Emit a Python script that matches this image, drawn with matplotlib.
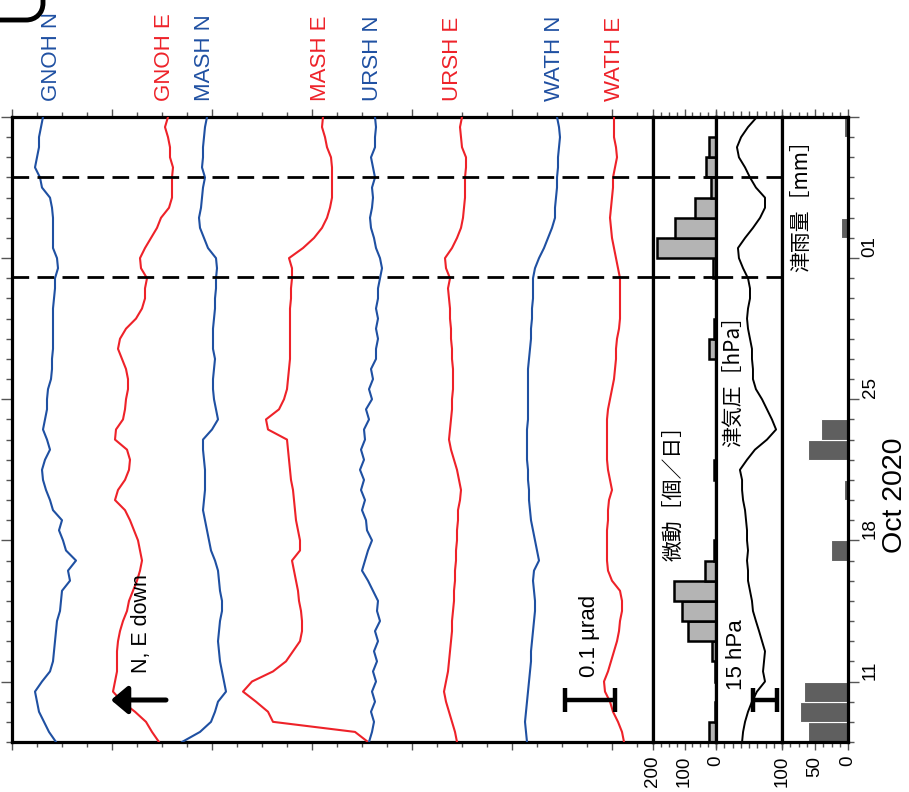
import numpy as np
import pandas as pd
import matplotlib
matplotlib.use("Agg")
import matplotlib.pyplot as plt
import matplotlib.dates as mdates
import matplotlib.ticker as mticker
import matplotlib.transforms as mtransforms
from matplotlib.path import Path
from matplotlib.patches import PathPatch

plt.rcParams["font.family"] = ["Liberation Sans", "DejaVu Sans"]
CJK = ["Noto Sans CJK JP", "Liberation Sans", "DejaVu Sans"]

W, H = 909, 792

# ---------------------------------------------------------------------------
# Data
# ---------------------------------------------------------------------------
period_start = "2020-10-08"
period_end = "2020-11-08"

# tilt records, 12-hourly samples, change in nrad from the first sample
stations = ["GNOH N", "GNOH E", "MASH N", "MASH E",
            "URSH N", "URSH E", "WATH N", "WATH E"]

gnoh_n = [0, -14, -24, -34, -38, -42, -28, -12, -6, -4,
          -2, 0, 2, 8, 10, 12, 28, 24, 40, 20,
          14, 6, 12, -6, -12, -20, -26, -28, -22, -12,
          -18, -26, -22, -18, -18, -16, -10, -8, -8, -6,
          -6, -6, -6, -6, -4, -2, -2, 4, 2, -6,
          -6, -6, -6, -8, -12, -28, -32, -42, -38, -34,
          -34, -30, -26]
gnoh_e = [0, -14, -26, -48, -74, -92, -88, -84, -84, -84,
          -82, -78, -72, -64, -60, -52, -44, -38, -34, -38,
          -42, -50, -58, -68, -88, -82, -68, -60, -58, -64,
          -88, -86, -72, -68, -66, -62, -62, -66, -74, -82,
          -78, -66, -46, -34, -28, -28, -24, -36, -38, -28,
          -16, -4, 4, 20, 26, 26, 26, 28, 22, 22,
          18, 12, 18]
mash_n = [0, 36, 58, 66, 72, 88, 84, 80, 76, 74,
          72, 74, 76, 80, 80, 76, 74, 72, 66, 58,
          54, 50, 46, 42, 44, 46, 46, 46, 44, 42,
          42, 60, 72, 68, 64, 62, 62, 64, 66, 62,
          62, 62, 64, 66, 66, 68, 68, 70, 68, 52,
          44, 36, 34, 38, 40, 42, 46, 40, 42, 42,
          44, 46, 50]
mash_e = [0, -26, -190, -200, -224, -250, -232, -190, -164, -150,
          -136, -132, -132, -134, -138, -140, -144, -148, -152, -136,
          -136, -140, -144, -146, -148, -150, -154, -156, -158, -160,
          -162, -200, -204, -178, -168, -162, -160, -158, -156, -156,
          -156, -156, -156, -156, -154, -154, -152, -152, -158, -130,
          -108, -92, -82, -76, -72, -72, -72, -72, -74, -82,
          -86, -92, -90]
ursh_n = [0, 6, 10, 4, 12, 6, 14, 8, 16, 10,
          18, 12, 22, 16, 18, 8, -2, -14, -8, -2,
          6, -4, -6, -14, -8, -16, -10, -18, -10, -16,
          -8, -10, 0, -6, 6, 0, 8, 4, 14, 14,
          18, 14, 18, 14, 18, 18, 22, 26, 22, 14,
          10, 4, 2, 6, 8, 6, 12, 8, 4, 12,
          12, 14, 12]
ursh_e = [0, -4, -10, -16, -22, -26, -22, -18, -16, -14,
          -12, -10, -10, -8, -6, -6, -4, -4, -2, -2,
          0, 0, 2, 2, 6, 8, 4, 0, -6, -12,
          -16, -14, -12, -10, -10, -8, -8, -8, -10, -10,
          -12, -12, -14, -14, -16, -18, -14, -22, -24, -10,
          0, 8, 12, 14, 16, 16, 16, 18, 18, 10,
          8, 6, 10]
wath_n = [0, -2, -4, -2, 0, 2, 4, 6, 8, 8,
          10, 12, 14, 16, 16, 14, 12, 14, 24, 20,
          16, 12, 8, 6, 4, 4, 2, 2, 0, 0,
          0, 0, 2, 2, 2, 2, 2, 2, 4, 6,
          8, 8, 10, 10, 12, 12, 12, 16, 24, 34,
          42, 50, 56, 56, 58, 60, 60, 62, 62, 64,
          66, 64, 60]
wath_e = [0, -4, -12, -22, -28, -38, -40, -32, -26, -20,
          -14, -10, -8, -4, -4, -8, -24, -32, -34, -34,
          -34, -34, -32, -32, -30, -24, -28, -32, -34, -34,
          -34, -34, -34, -32, -28, -24, -20, -18, -16, -16,
          -14, -10, -8, -8, -8, -8, -8, -12, -16, -20,
          -24, -26, -28, -26, -24, -22, -22, -18, -14, -16,
          -20, -20, -20]

# barometric pressure at Tsu, 12-hourly [hPa]
pressure_hpa = [1005.8, 1006.4, 1007.6, 1009.4, 1011.8, 1014.8, 1019.7, 1018.5, 1019.1, 1019.7,
                1017.9, 1016.1, 1014.2, 1012.4, 1011.8, 1010.6, 1009.4, 1009.4, 1008.8, 1009.4,
                1008.8, 1008.8, 1008.2, 1007.6, 1006.4, 1005.8, 1005.8, 1004.5, 1008.8, 1013.6,
                1020.9, 1026.4, 1023.9, 1020.9, 1017.9, 1014.2, 1012.4, 1012.4, 1011.8, 1011.8,
                1010.6, 1009.4, 1008.8, 1009.4, 1010.6, 1010.6, 1009.4, 1006.4, 1003.9, 1003.3,
                1007.6, 1012.4, 1016.7, 1019.7, 1019.7, 1014.2, 1010.6, 1007.6, 1003.9, 1002.7,
                1005.2, 1009.4, 1014.8]

# daily tremor counts and daily rainfall, Oct 8 .. Nov 7
tremor_per_day = [22, 2, 1, 2, 12, 90, 107, 133, 35, 5,
                  0, 0, 0, 6, 0, 0, 0, 0, 0, 22,
                  6, 0, 0, 8, 187, 130, 67, 16, 32, 22,
                  0]
rain_mm = [61, 72, 66, 0, 0, 0, 0, 0, 0, 26,
           0, 0, 6, 0, 60, 41, 0, 0, 0, 0,
           0, 0, 0, 0, 0, 10, 0, 0, 0, 0,
           6]

# tremor episodes marked across the panels
event_times = ["2020-10-31 01:40", "2020-11-05 00:45"]

# weekly date labels on the time axis
label_dates = ["2020-10-11", "2020-10-18", "2020-10-25", "2020-11-01"]

# ---------------------------------------------------------------------------
# Styling / layout
# ---------------------------------------------------------------------------
BLUE = "#1f50a2"
RED = "#ee2229"
trace_colors = [BLUE, RED] * 4
trace_offsets = [0.088, 0.294, 0.340, 0.712, 0.714, 0.890, 1.030, 1.224]  # µrad
label_x_px = [51.5, 165, 205, 320, 372, 453, 555, 615]
traces = [gnoh_n, gnoh_e, mash_n, mash_e, ursh_n, ursh_e, wath_n, wath_e]

t12 = mdates.date2num(pd.date_range(period_start, periods=len(gnoh_n), freq="12h"))
tday = mdates.date2num(pd.date_range(period_start, periods=len(tremor_per_day), freq="D")) + 0.5
t0 = mdates.date2num(pd.Timestamp(period_start))
t1 = mdates.date2num(pd.Timestamp(period_end))


def fx(px):
    return px / W


def fy(py):
    return 1 - py / H


fig = plt.figure(figsize=(W / 100, H / 100), dpi=100)

top, bottom = 117, 742
def panel(x0, x1):
    return fig.add_axes([fx(x0), fy(bottom), (x1 - x0) / W, (bottom - top) / H])

ax_t = panel(12, 653)
ax_q = panel(653, 716)
ax_p = panel(716, 782)
ax_r = panel(782, 848)

for ax in (ax_t, ax_q, ax_p, ax_r):
    ax.set_ylim(t0, t1)
    for s in ax.spines.values():
        s.set_linewidth(2.3)
        s.set_color("black")
    ax.tick_params(axis="both", which="both", direction="out", color="#555555", width=1.0)
    ax.tick_params(axis="y", which="both", left=False, right=False, labelleft=False)
    ax.tick_params(axis="x", which="both", top=True, bottom=True, labelbottom=False)
    ax.tick_params(axis="x", which="major", length=6)
    ax.tick_params(axis="x", which="minor", length=3.5)

# ---- tilt panel ----
ax_t.set_xlim(0, 1.282)
ax_t.xaxis.set_major_locator(mticker.MultipleLocator(0.2))
ax_t.xaxis.set_minor_locator(mticker.MultipleLocator(0.05))
ax_t.yaxis.set_major_locator(mdates.WeekdayLocator(byweekday=mdates.SU))
ax_t.yaxis.set_minor_locator(mdates.DayLocator())
ax_t.tick_params(axis="y", which="both", left=True)
ax_t.tick_params(axis="y", which="major", length=8)
ax_t.tick_params(axis="y", which="minor", length=4)

for vals, off, col in zip(traces, trace_offsets, trace_colors):
    ax_t.plot(off + np.asarray(vals) / 1000.0, t12, color=col, lw=1.5, zorder=3)

for name, xp, col in zip(stations, label_x_px, trace_colors):
    fig.text(fx(xp), fy(101), name, rotation=90, ha="center", va="bottom",
             color=col, fontsize=16)

# 0.1 µrad scale bar and direction arrow
bar_t = mdates.date2num(pd.Timestamp("2020-10-10 02:00"))
ax_t.errorbar([1.155], [bar_t], xerr=[0.05], fmt="none", ecolor="black",
              elinewidth=3.2, capsize=8.5, capthick=3.2, zorder=5)
ax_t.annotate("", xy=(0.198, bar_t), xytext=(0.308, bar_t),
              arrowprops=dict(arrowstyle="-|>,head_length=0.5,head_width=0.42",
                              lw=3.6, color="black", mutation_scale=20,
                              shrinkA=0, shrinkB=0), zorder=6)
fig.text(fx(141), fy(624), "N, E down", rotation=90, ha="center", va="center", fontsize=15.5)
fig.text(fx(590), fy(636), "0.1 µrad", rotation=90, ha="center", va="center", fontsize=16)

# ---- tremor panel ----
ax_q.set_xlim(200, 0)
ax_q.xaxis.set_major_locator(mticker.MultipleLocator(100))
ax_q.xaxis.set_minor_locator(mticker.MultipleLocator(25))
ax_q.barh(tday, tremor_per_day, height=1.0, color="#b4b4b4",
          edgecolor="black", linewidth=1.8, zorder=2)
ax_q.tick_params(axis="x", which="major", labelbottom=True, labelrotation=90,
                 labelsize=13.5, pad=4)
fig.text(fx(673), fy(488), "微動［個／日］", rotation=90, ha="center", va="center",
         fontsize=15, family=CJK)

# ---- pressure panel ----
ax_p.set_xlim(990, 1030)
ax_p.xaxis.set_major_locator(mticker.MultipleLocator(5))
ax_p.xaxis.set_minor_locator(mticker.NullLocator())
ax_p.tick_params(axis="x", which="major", length=4.5)
ax_p.plot(pressure_hpa, t12, color="black", lw=1.4, zorder=3)
ax_p.errorbar([1019.7], [bar_t], xerr=[7.5], fmt="none", ecolor="black",
              elinewidth=3.2, capsize=8.5, capthick=3.2, zorder=5)
fig.text(fx(737), fy(655), "15 hPa", rotation=90, ha="center", va="center", fontsize=16)
fig.text(fx(733), fy(376), "津気圧［hPa］", rotation=90, ha="center", va="center",
         fontsize=15, family=CJK)

# ---- rainfall panel ----
ax_r.set_xlim(100, 0)
ax_r.xaxis.set_major_locator(mticker.MultipleLocator(50))
ax_r.xaxis.set_minor_locator(mticker.MultipleLocator(12.5))
ax_r.barh(tday, rain_mm, height=1.0, color="#5f5f5f", edgecolor="white",
          linewidth=0.8, zorder=2)
ax_r.tick_params(axis="x", which="major", labelbottom=True, labelrotation=90,
                 labelsize=13.5, pad=4)
ax_r.yaxis.set_major_locator(mdates.WeekdayLocator(byweekday=mdates.SU))
ax_r.yaxis.set_minor_locator(mdates.DayLocator())
ax_r.tick_params(axis="y", which="both", right=True)
ax_r.tick_params(axis="y", which="major", length=8)
ax_r.tick_params(axis="y", which="minor", length=4)
fig.text(fx(801), fy(201), "津雨量［mm］", rotation=90, ha="center", va="center",
         fontsize=15, family=CJK)

# date labels on the right, each starting at its weekly tick
date_tf = mtransforms.blended_transform_factory(fig.transFigure, ax_r.transData)
for d in pd.to_datetime(label_dates):
    fig.text(fx(870), mdates.date2num(d) + 0.08, d.strftime("%d"), rotation=90,
             ha="center", va="bottom", fontsize=13.5, transform=date_tf)
fig.text(fx(895), fy(495), "Oct 2020", rotation=90, ha="center", va="center", fontsize=20.5)

# ---- event markers ----
for et in event_times:
    tv = mdates.date2num(pd.Timestamp(et))
    for ax in (ax_t, ax_q, ax_p):
        ax.axhline(tv, color="black", lw=2.0, ls=(0, (6, 3)), zorder=4)

# rounded frame corner at upper left
corner = [(0, 20), (26, 20), (36, 20), (43, 13), (43, 3), (43, -6)]
codes = [Path.MOVETO, Path.LINETO, Path.CURVE4, Path.CURVE4, Path.CURVE4, Path.LINETO]
fig.patches.append(PathPatch(Path([(fx(x), fy(y)) for x, y in corner], codes),
                             transform=fig.transFigure, fill=False, lw=3.5,
                             edgecolor="black", clip_on=False))

fig.savefig("out.png", dpi=100)
